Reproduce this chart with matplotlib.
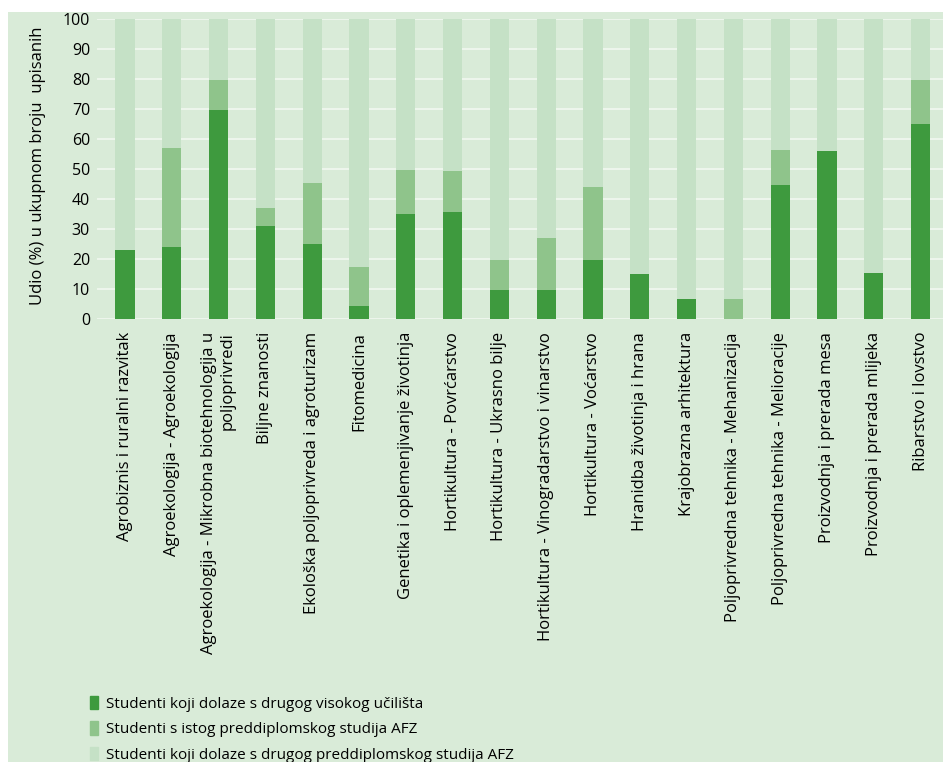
import matplotlib
matplotlib.use("Agg")
import matplotlib.pyplot as plt
from matplotlib.patches import Rectangle, Patch
import numpy as np

# data (% of total enrolled)
programmes = [
    "Agrobiznis i ruralni razvitak",
    "Agroekologija - Agroekologija",
    "Agroekologija - Mikrobna biotehnologija u\npoljoprivredi",
    "Biljne znanosti",
    "Ekološka poljoprivreda i agroturizam",
    "Fitomedicina",
    "Genetika i oplemenjivanje životinja",
    "Hortikultura - Povrćarstvo",
    "Hortikultura - Ukrasno bilje",
    "Hortikultura - Vinogradarstvo i vinarstvo",
    "Hortikultura - Voćarstvo",
    "Hranidba životinja i hrana",
    "Krajobrazna arhitektura",
    "Poljoprivredna tehnika - Mehanizacija",
    "Poljoprivredna tehnika - Melioracije",
    "Proizvodnja i prerada mesa",
    "Proizvodnja i prerada mlijeka",
    "Ribarstvo i lovstvo",
]
drugo_uciliste = [23.1, 24.1, 69.7, 31.1, 25.1, 4.4, 35.1, 35.7, 9.8, 9.8,
                  19.8, 15.1, 6.8, 0.0, 44.7, 56.0, 15.4, 65.0]
isti_studij = [0.0, 32.9, 10.0, 6.0, 20.3, 13.0, 14.6, 13.7, 10.0, 17.3,
               24.2, 0.0, 0.0, 6.8, 11.7, 0.0, 0.0, 14.7]
drugi_studij = [76.9, 43.0, 20.3, 62.9, 54.6, 82.6, 50.3, 50.6, 80.2, 72.9,
                56.0, 84.9, 93.2, 93.2, 43.6, 44.0, 84.6, 20.3]
series_names = [
    "Studenti koji dolaze s drugog visokog učilišta",
    "Studenti s istog preddiplomskog studija AFZ",
    "Studenti koji dolaze s drugog preddiplomskog studija AFZ",
]
y_ticks = [0, 10, 20, 30, 40, 50, 60, 70, 80, 90, 100]

c_dark = "#3e9a3e"
c_mid = "#8fc48b"
c_light = "#c5e1c6"
c_bg = "#d9ebd8"

plt.rcParams["font.family"] = ["Open Sans", "DejaVu Sans"]

W, H = 943, 762
fig = plt.figure(figsize=(W / 100, H / 100), dpi=100, facecolor="white")
fig.patches.append(Rectangle((8 / W, 0), 1 - 8 / W, 1 - 12 / H,
                             transform=fig.transFigure, facecolor=c_bg,
                             edgecolor="none", zorder=-10))

ax = fig.add_axes([97 / W, 1 - 319.5 / H, (W - 97) / W, 300.5 / H])
ax.set_facecolor(c_bg)

x = np.arange(len(programmes))
d1 = np.array(drugo_uciliste)
d2 = np.array(isti_studij)
d3 = np.array(drugi_studij)
bw = 0.41
ax.bar(x, d1, bw, color=c_dark, zorder=3)
ax.bar(x, d2, bw, bottom=d1, color=c_mid, zorder=3)
ax.bar(x, d3, bw, bottom=d1 + d2, color=c_light, zorder=3)

ax.set_xlim(-0.6, len(programmes) - 0.52)
ax.set_ylim(0, 100)
ax.set_yticks(y_ticks)
ax.tick_params(axis="y", length=0, pad=5, labelsize=11.5)
ax.tick_params(axis="x", length=0, pad=9)
ax.grid(axis="y", color="#f2f8f1", linewidth=1.2, zorder=0)
for s in ax.spines.values():
    s.set_visible(False)

ax.set_xticks(x)
ax.set_xticklabels(programmes, rotation=90, fontsize=12)
for lbl in ax.get_xticklabels():
    lbl.set_multialignment("right")

ax.set_ylabel("Udio (%) u ukupnom broju  upisanih", fontsize=12)
ax.yaxis.set_label_coords(-51 / 846, 0.51)

handles = [Patch(color=c_dark), Patch(color=c_mid), Patch(color=c_light)]
fig.legend(handles, series_names, loc="upper left",
           bbox_to_anchor=(84 / W, 1 - 690 / H), frameon=False,
           fontsize=11, handlelength=0.5, handleheight=0.95,
           handletextpad=0.55, labelspacing=0.62, borderaxespad=0)

fig.savefig("out.png", dpi=100, facecolor="white")
